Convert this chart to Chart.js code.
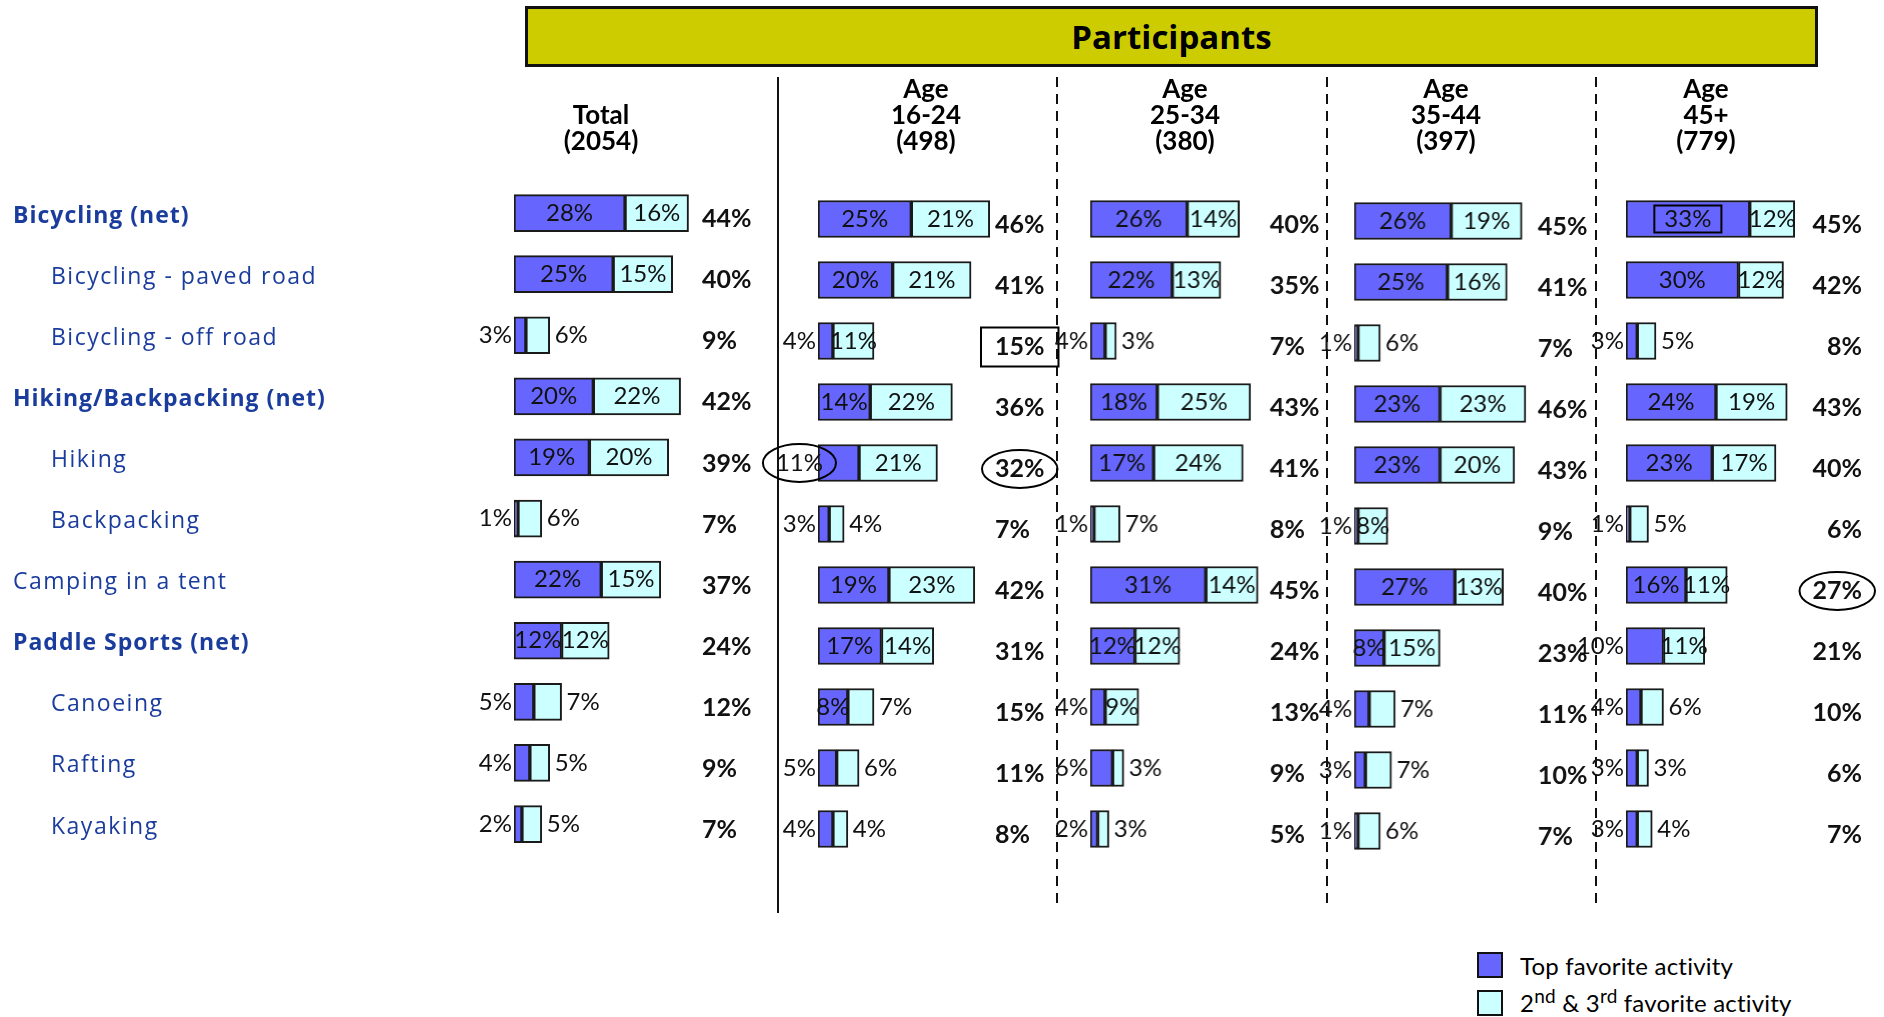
<!DOCTYPE html>
<html>
<head>
<meta charset="utf-8">
<script src="https://cdn.jsdelivr.net/npm/chart.js@4.4.1/dist/chart.umd.min.js"></script>
<style>
  body { margin: 0; width: 1884px; height: 1017px; background: #fff; position: relative; overflow: hidden; font-family: Lato, sans-serif; }
  canvas { position: absolute; top: 0; }
  .hdr { position: absolute; left: 525px; top: 6px; width: 1287px; height: 55px; background: #cccc00; border: 3px solid #111;
         font: bold 33px "Open Sans"; text-align: center; line-height: 55px; color: #000; }
  .ttl { position: absolute; width: 200px; margin-left: -100px; text-align: center; font: bold 26px/26px Lato; color: #000; }
  .vline { position: absolute; top: 77px; width: 2px; height: 836px; background: #111; }
  .dash { height: 830px; background: repeating-linear-gradient(to bottom, #111 0 10px, transparent 10px 17px); }
  .sw { position: absolute; left: 1477px; width: 26px; height: 26px; box-sizing: border-box; border: 2px solid #111; }
  .lt { position: absolute; left: 1520px; font: 24px/30px Lato; color: #000; letter-spacing: 0.2px; }
  .lt sup { font-size: 19px; vertical-align: 9px; line-height: 0; }
</style>
</head>
<body>
<div class="hdr">Participants</div>
<div class="vline" style="left:777px"></div>
<div class="vline dash" style="left:1056px"></div>
<div class="vline dash" style="left:1326px"></div>
<div class="vline dash" style="left:1595px"></div>
<div class="sw" style="top:952px;background:#6666ff"></div>
<div class="sw" style="top:990px;background:#ccffff"></div>
<div class="lt" style="top:951px">Top favorite activity</div>
<div class="lt" style="top:988px">2<sup>nd</sup> &amp; 3<sup>rd</sup> favorite activity</div>

<script>
// categories
const activities = ['Bicycling (net)', 'Bicycling - paved road', 'Bicycling - off road', 'Hiking/Backpacking (net)',
  'Hiking', 'Backpacking', 'Camping in a tent', 'Paddle Sports (net)', 'Canoeing', 'Rafting', 'Kayaking'];
const rowKind = ['net', 'sub', 'sub', 'net', 'sub', 'sub', 'main', 'net', 'sub', 'sub', 'sub'];

// values (%): top favorite, 2nd & 3rd favorite, net
const totalTop = [28, 25, 3, 20, 19, 1, 22, 12, 5, 4, 2];
const totalSec = [16, 15, 6, 22, 20, 6, 15, 12, 7, 5, 5];
const totalNet = [44, 40, 9, 42, 39, 7, 37, 24, 12, 9, 7];

const age1624Top = [25, 20, 4, 14, 11, 3, 19, 17, 8, 5, 4];
const age1624Sec = [21, 21, 11, 22, 21, 4, 23, 14, 7, 6, 4];
const age1624Net = [46, 41, 15, 36, 32, 7, 42, 31, 15, 11, 8];

const age2534Top = [26, 22, 4, 18, 17, 1, 31, 12, 4, 6, 2];
const age2534Sec = [14, 13, 3, 25, 24, 7, 14, 12, 9, 3, 3];
const age2534Net = [40, 35, 7, 43, 41, 8, 45, 24, 13, 9, 5];

const age3544Top = [26, 25, 1, 23, 23, 1, 27, 8, 4, 3, 1];
const age3544Sec = [19, 16, 6, 23, 20, 8, 13, 15, 7, 7, 6];
const age3544Net = [45, 41, 7, 46, 43, 9, 40, 23, 11, 10, 7];

const age45Top = [33, 30, 3, 24, 23, 1, 16, 10, 4, 3, 3];
const age45Sec = [12, 12, 5, 19, 17, 5, 11, 11, 6, 3, 4];
const age45Net = [45, 42, 8, 43, 40, 6, 27, 21, 10, 6, 7];

const columnTitles = [['Total', '(2054)'], ['Age', '16-24', '(498)'], ['Age', '25-34', '(380)'], ['Age', '35-44', '(397)'], ['Age', '45+', '(779)']];

// draws the % labels, total labels, row names and the circled / boxed callouts
const valueLabels = {
  id: 'valueLabels',
  afterDatasetsDraw(chart, args, o) {
    const { ctx, scales: { x, y } } = chart;
    const top = chart.data.datasets[0].data, sec = chart.data.datasets[1].data;
    const marks = o.marks || [];
    const boxes = {};
    ctx.save();
    ctx.textBaseline = 'middle';

    if (o.rowLabels) {
      chart.data.labels.forEach((lab, i) => {
        const k = o.rowKind[i];
        ctx.font = (k === 'net' ? 'bold ' : '') + '23px "Open Sans"';
        ctx.letterSpacing = k === 'net' ? '1px' : '1.5px';
        ctx.fillStyle = '#1a3c9c';
        ctx.textAlign = 'left';
        ctx.fillText(lab, k === 'sub' ? 51 : 13, y.getPixelForValue(i) + 3);
      });
      ctx.letterSpacing = '0px';
    }

    top.forEach((v, i) => {
      const s = sec[i], yc = y.getPixelForValue(i);
      const x0 = x.getPixelForValue(0), x1 = x.getPixelForValue(v), x2 = x.getPixelForValue(v + s);
      ctx.fillStyle = '#111';
      ctx.font = '24px Lato';
      ctx.textAlign = 'center';
      const t1 = v + '%', t2 = s + '%';
      const w1 = ctx.measureText(t1).width, w2 = ctx.measureText(t2).width;
      const forceOut = marks.some(m => m.what === 'top' && m.row === i && m.outside);
      let c1;
      if (forceOut) c1 = x0 + 5 - w1 / 2;
      else c1 = (x1 - x0 >= w1 * 0.84) ? (x0 + x1) / 2 : x0 - 2 - w1 / 2;
      const c2 = (x2 - x1 >= w2 * 0.84) ? (x1 + x2) / 2 : x2 + 5 + w2 / 2;
      ctx.fillText(t1, c1, yc);
      ctx.fillText(t2, c2, yc);
      boxes['top' + i] = { cx: c1, cy: yc, w: w1 };

      ctx.font = 'bold 25px Lato';
      const t3 = o.net[i] + '%';
      const w3 = ctx.measureText(t3).width;
      const tx = x0 + o.totOff;
      const yt = yc + 6;
      ctx.textAlign = o.totAlign;
      ctx.fillText(t3, tx, yt);
      boxes['net' + i] = { cx: o.totAlign === 'left' ? tx + w3 / 2 : tx - w3 / 2, cy: yt, w: w3 };
    });

    ctx.strokeStyle = '#000';
    ctx.lineWidth = 2;
    marks.forEach(m => {
      const b = boxes[m.what + m.row];
      ctx.beginPath();
      if (m.shape === 'ellipse') {
        ctx.ellipse(b.cx, b.cy, b.w / 2 + 13, 19, 0, 0, Math.PI * 2);
      } else {
        ctx.rect(b.cx - b.w / 2 - m.padX, b.cy - m.h / 2, b.w + m.padX * 2, m.h);
      }
      ctx.stroke();
    });
    ctx.restore();
  }
};

function makeColumn(cfg, top, sec, net) {
  const canvas = document.createElement('canvas');
  const left = cfg.canvasLeft;
  const width = (cfg.barStart - left) + 60 * cfg.ppp + cfg.rightPad;
  canvas.width = width;
  canvas.height = 1017;
  canvas.style.left = left + 'px';
  canvas.style.width = width + 'px';
  canvas.style.height = '1017px';
  document.body.appendChild(canvas);

  const rowsH = 11 * cfg.pitch;
  new Chart(canvas, {
    type: 'bar',
    data: {
      labels: activities,
      datasets: [
        { label: 'Top favorite activity', data: top, backgroundColor: '#6666ff' },
        { label: '2nd & 3rd favorite activity', data: sec, backgroundColor: '#ccffff' }
      ].map(d => Object.assign(d, { borderColor: '#1a1a1a', borderWidth: 2, borderSkipped: false, barThickness: 37 }))
    },
    options: {
      indexAxis: 'y',
      responsive: false,
      animation: false,
      devicePixelRatio: 1,
      layout: { padding: { left: cfg.barStart - left, right: cfg.rightPad, top: cfg.top, bottom: 1017 - cfg.top - rowsH } },
      scales: {
        x: { stacked: true, min: 0, max: 60, display: false },
        y: { stacked: true, display: false }
      },
      plugins: {
        legend: { display: false },
        tooltip: { enabled: false },
        valueLabels: { net: net, totOff: cfg.totOff, totAlign: cfg.totAlign, rowLabels: cfg.rowLabels, rowKind: rowKind, marks: cfg.marks }
      }
    },
    plugins: [valueLabels]
  });

  const t = document.createElement('div');
  t.className = 'ttl';
  t.style.left = cfg.titleX + 'px';
  t.style.top = (columnTitles[cfg.idx].length === 2 ? 101 : 75) + 'px';
  t.innerHTML = columnTitles[cfg.idx].join('<br>');
  document.body.appendChild(t);
}

makeColumn({ idx: 0, canvasLeft: 0, barStart: 514, ppp: 3.97, rightPad: 20, top: 182.5, pitch: 61.1,
  totOff: 188, totAlign: 'left', rowLabels: true, titleX: 601 }, totalTop, totalSec, totalNet);

makeColumn({ idx: 1, canvasLeft: 748, barStart: 818, ppp: 3.74, rightPad: 30, top: 188.5, pitch: 61,
  totOff: 177, totAlign: 'left', titleX: 926,
  marks: [{ what: 'top', row: 4, shape: 'ellipse', outside: true }, { what: 'net', row: 4, shape: 'ellipse' },
          { what: 'net', row: 2, shape: 'box', padX: 14, h: 39 }] }, age1624Top, age1624Sec, age1624Net);

makeColumn({ idx: 2, canvasLeft: 1030, barStart: 1090, ppp: 3.73, rightPad: 20, top: 188.5, pitch: 61,
  totOff: 179, totAlign: 'left', titleX: 1185 }, age2534Top, age2534Sec, age2534Net);

makeColumn({ idx: 3, canvasLeft: 1294, barStart: 1354, ppp: 3.73, rightPad: 20, top: 190.5, pitch: 61,
  totOff: 183, totAlign: 'left', titleX: 1446 }, age3544Top, age3544Sec, age3544Net);

makeColumn({ idx: 4, canvasLeft: 1566, barStart: 1626, ppp: 3.75, rightPad: 30, top: 188.5, pitch: 61,
  totOff: 236, totAlign: 'right', titleX: 1706,
  marks: [{ what: 'top', row: 0, shape: 'box', padX: 10, h: 27 }, { what: 'net', row: 6, shape: 'ellipse' }] },
  age45Top, age45Sec, age45Net);
</script>
</body>
</html>
